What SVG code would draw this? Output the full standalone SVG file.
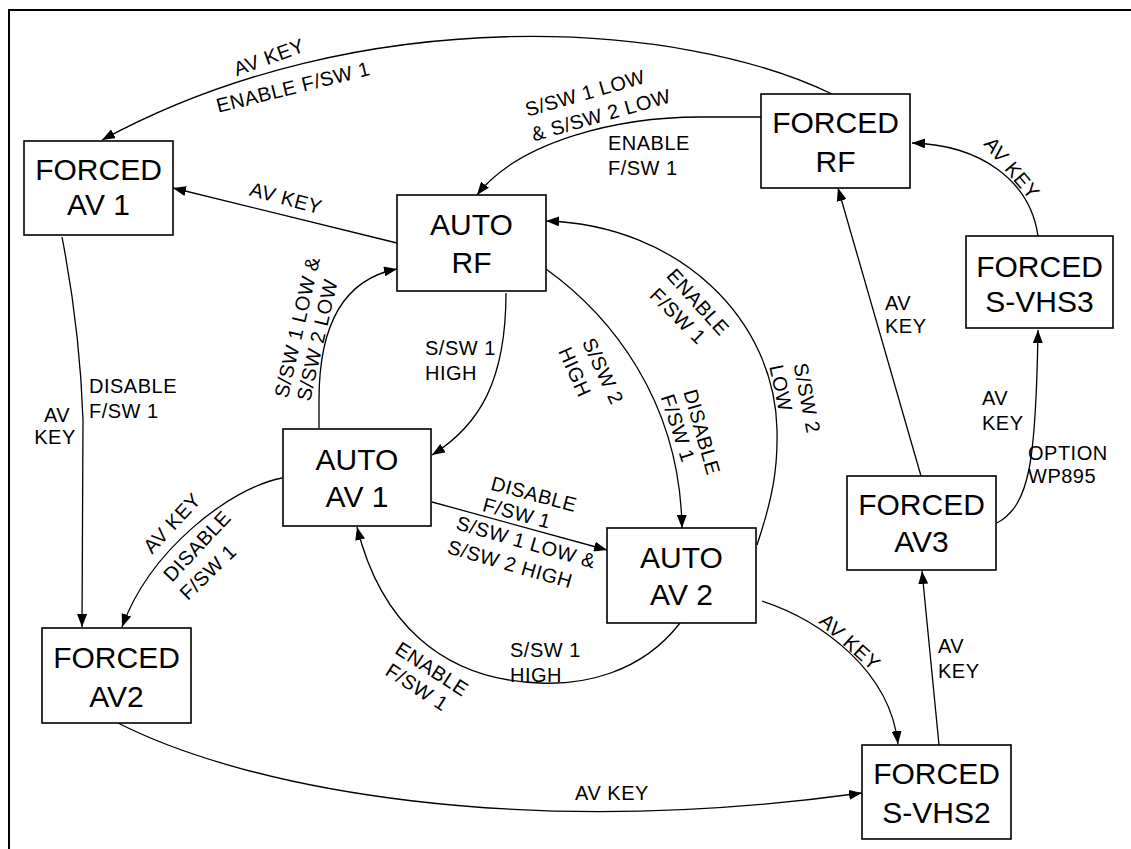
<svg xmlns="http://www.w3.org/2000/svg" width="1131" height="849" viewBox="0 0 1131 849">
<style>
.frame{fill:none;stroke:#000;stroke-width:2}
.box{fill:#fff;stroke:#000;stroke-width:1.6}
.nt{font-family:"Liberation Sans",Arial,sans-serif;font-size:30px;fill:#000;text-anchor:middle}
.c{fill:none;stroke:#000;stroke-width:1.3;marker-end:url(#ah)}
.l{font-family:"Liberation Sans",Arial,sans-serif;font-size:20px;fill:#000;letter-spacing:0.5px}
.m{text-anchor:middle}
</style>
<defs>
<marker id="ah" viewBox="0 0 13 10" refX="13" refY="5" markerWidth="13" markerHeight="10" markerUnits="userSpaceOnUse" orient="auto">
<path d="M0,0 L13,5 L0,10 z" fill="#000"/>
</marker>
</defs>
<rect width="1131" height="849" fill="#fff"/>
<path class="frame" d="M9,849 L9,10 L1131,10"/>

<g id="connectors">
<path class="c" d="M832,94 C680,20 360,0 102,140"/>
<path class="c" d="M397,243 L173,188"/>
<path class="c" d="M761,117 L700,117 C620,117 520,140 477,195"/>
<path class="c" d="M1038,236 C1030,180 980,145 912,143"/>
<path class="c" d="M921,476 L838,188"/>
<path class="c" d="M997,523 C1030,505 1036,460 1038,330"/>
<path class="c" d="M939,745 L922,571"/>
<path class="c" d="M762,601 C820,620 890,670 898,744"/>
<path class="c" d="M118,723 C250,790 520,840 862,793"/>
<path class="c" d="M62,237 Q80,330 83,420 L82,627"/>
<path class="c" d="M282,478 C230,488 150,550 122,627"/>
<path class="c" d="M319,428 L319,400 C319,330 340,280 397,269"/>
<path class="c" d="M506,293 C506,380 480,425 432,455"/>
<path class="c" d="M546,269 C610,315 680,400 682,528"/>
<path class="c" d="M757,545 C772,500 778,470 777,430 C775,320 680,225 546,221"/>
<path class="c" d="M432,502 L607,550"/>
<path class="c" d="M680,623 C640,675 580,685 540,683 C440,680 380,620 357,527"/>

<!-- labels -->
<text class="l m" transform="translate(269,57) rotate(-20)" dy="7">AV KEY</text>
<text class="l m" transform="translate(293,87) rotate(-14)" dy="7">ENABLE F/SW 1</text>
<text class="l m" transform="translate(286,198) rotate(15)" dy="7">AV KEY</text>
<text class="l m" transform="translate(585,93) rotate(-16)" dy="7">S/SW 1 LOW</text>
<text class="l m" transform="translate(601,115) rotate(-16)" dy="7">&amp; S/SW 2 LOW</text>
<text class="l" x="608" y="150">ENABLE</text>
<text class="l" x="608" y="175">F/SW 1</text>
<text class="l m" transform="translate(1012,168) rotate(50)" dy="7">AV KEY</text>
<text class="l" x="885" y="310">AV</text>
<text class="l" x="885" y="333">KEY</text>
<text class="l" x="982" y="405">AV</text>
<text class="l" x="982" y="430">KEY</text>
<text class="l" x="1028" y="460">OPTION</text>
<text class="l" x="1028" y="483">WP895</text>
<text class="l" x="938" y="653">AV</text>
<text class="l" x="938" y="678">KEY</text>
<text class="l m" transform="translate(850,642) rotate(42)" dy="7">AV KEY</text>
<text class="l m" x="612" y="800">AV KEY</text>
<text class="l" x="89" y="393">DISABLE</text>
<text class="l" x="89" y="418">F/SW 1</text>
<text class="l m" x="57" y="422">AV</text>
<text class="l m" x="55" y="444">KEY</text>
<text class="l m" transform="translate(172,523) rotate(-47)" dy="7">AV KEY</text>
<text class="l m" transform="translate(197,546) rotate(-47)" dy="7">DISABLE</text>
<text class="l m" transform="translate(208,572) rotate(-44)" dy="7">F/SW 1</text>
<text class="l m" transform="translate(297,327) rotate(-77)" dy="7">S/SW 1 LOW &amp;</text>
<text class="l m" transform="translate(317,340) rotate(-77)" dy="7">S/SW 2 LOW</text>
<text class="l" x="425" y="355">S/SW 1</text>
<text class="l" x="425" y="380">HIGH</text>
<text class="l m" transform="translate(603,371) rotate(65)" dy="7">S/SW 2</text>
<text class="l m" transform="translate(575,372) rotate(66)" dy="7">HIGH</text>
<text class="l m" transform="translate(702,432) rotate(74)" dy="7">DISABLE</text>
<text class="l m" transform="translate(678,428) rotate(72)" dy="7">F/SW 1</text>
<text class="l m" transform="translate(698,302) rotate(48)" dy="7">ENABLE</text>
<text class="l m" transform="translate(678,316) rotate(45)" dy="7">F/SW 1</text>
<text class="l m" transform="translate(807,398) rotate(79)" dy="7">S/SW 2</text>
<text class="l m" transform="translate(781,388) rotate(78)" dy="7">LOW</text>
<text class="l m" transform="translate(534,494) rotate(15)" dy="7">DISABLE</text>
<text class="l m" transform="translate(517,513) rotate(15)" dy="7">F/SW 1</text>
<text class="l m" transform="translate(526,542) rotate(16)" dy="7">S/SW 1 LOW &amp;</text>
<text class="l m" transform="translate(510,564) rotate(16)" dy="7">S/SW 2 HIGH</text>
<text class="l" x="510" y="657">S/SW 1</text>
<text class="l" x="510" y="682">HIGH</text>
<text class="l m" transform="translate(432,669) rotate(33)" dy="7">ENABLE</text>
<text class="l m" transform="translate(417,687) rotate(33)" dy="7">F/SW 1</text>
</g>

<g id="forced_av1"><rect class="box" x="24" y="141" width="149" height="94"/><text class="nt" x="98.5" y="180">FORCED</text><text class="nt" x="98.5" y="215">AV 1</text></g>
<g id="auto_rf"><rect class="box" x="397" y="195" width="149" height="96"/><text class="nt" x="471.5" y="235">AUTO</text><text class="nt" x="471.5" y="273">RF</text></g>
<g id="forced_rf"><rect class="box" x="761" y="94" width="149" height="94"/><text class="nt" x="835.5" y="133">FORCED</text><text class="nt" x="835.5" y="172">RF</text></g>
<g id="forced_svhs3"><rect class="box" x="966" y="236" width="147" height="92"/><text class="nt" x="1039.5" y="277">FORCED</text><text class="nt" x="1039.5" y="312">S-VHS3</text></g>
<g id="auto_av1"><rect class="box" x="283" y="429" width="148" height="97"/><text class="nt" x="357" y="470">AUTO</text><text class="nt" x="357" y="507">AV 1</text></g>
<g id="auto_av2"><rect class="box" x="607" y="528" width="149" height="95"/><text class="nt" x="681.5" y="568">AUTO</text><text class="nt" x="681.5" y="605">AV 2</text></g>
<g id="forced_av3"><rect class="box" x="847" y="476" width="149" height="94"/><text class="nt" x="921.5" y="515">FORCED</text><text class="nt" x="921.5" y="552">AV3</text></g>
<g id="forced_av2"><rect class="box" x="42" y="628" width="149" height="95"/><text class="nt" x="116.5" y="668">FORCED</text><text class="nt" x="116.5" y="707">AV2</text></g>
<g id="forced_svhs2"><rect class="box" x="862" y="745" width="149" height="94"/><text class="nt" x="936.5" y="784">FORCED</text><text class="nt" x="936.5" y="823">S-VHS2</text></g>
</svg>
